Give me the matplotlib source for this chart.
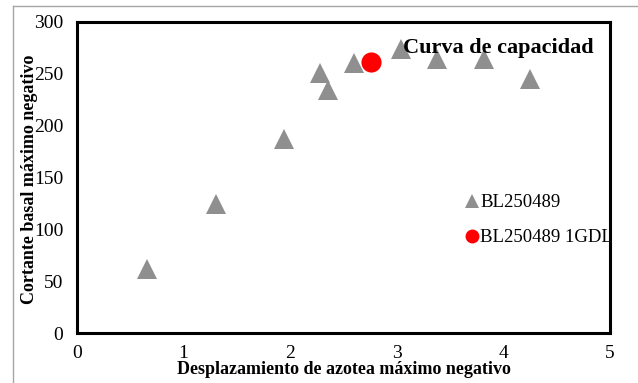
import matplotlib
matplotlib.use("Agg")
import matplotlib.pyplot as plt
from matplotlib.lines import Line2D

plt.rcParams['font.family'] = ['Liberation Serif', 'DejaVu Serif']

# Data
x_bl = [0.66, 1.30, 1.94, 2.28, 2.35, 2.60, 3.04, 3.38, 3.82, 4.25]
y_bl = [62, 124, 187, 251, 234, 260, 274, 264, 264, 245]
x_gdl = [2.76]
y_gdl = [261]
series_names = ["BL250489", "BL250489 1GDL"]
x_ticks = [0, 1, 2, 3, 4, 5]
y_ticks = [0, 50, 100, 150, 200, 250, 300]
title = "Curva de capacidad"
xlabel = "Desplazamiento de azotea máximo negativo"
ylabel = "Cortante basal máximo negativo"

W, H = 638, 383
fig = plt.figure(figsize=(W / 100, H / 100), dpi=100)
ax = fig.add_axes([77 / W, 1 - 333 / H, (610 - 77) / W, (333 - 22) / H])

ax.plot(x_bl, y_bl, linestyle='none', marker='^', markersize=14, color='#8f8f8f',
        markeredgewidth=0, label=series_names[0])
ax.plot(x_gdl, y_gdl, linestyle='none', marker='o', markersize=14.5, color='#ff0000',
        markeredgewidth=0, label=series_names[1])

ax.set_xlim(0, 5)
ax.set_ylim(0, 300)
ax.set_xticks(x_ticks)
ax.set_yticks(y_ticks)
ax.tick_params(axis='both', length=0, labelsize=14)
ax.tick_params(axis='y', pad=10)
ax.tick_params(axis='x', pad=9)
for s in ax.spines.values():
    s.set_linewidth(2.2)
    s.set_color('black')

ax.text(0.79, 0.915, title, transform=ax.transAxes, ha='center', va='center',
        fontsize=16, fontweight='bold')

handles = [Line2D([], [], linestyle='none', marker='^', markersize=9.5, color='#8f8f8f', markeredgewidth=0),
           Line2D([], [], linestyle='none', marker='o', markersize=10, color='#ff0000', markeredgewidth=0)]
leg = ax.legend(handles, series_names, loc='upper left', bbox_to_anchor=((466 - 77) / 533, (333 - 194) / 311),
                frameon=False, fontsize=13.5, handlelength=0.6, handletextpad=0.15,
                labelspacing=0.95, borderaxespad=0, borderpad=0)

fig.text(343.5 / W, 1 - 369 / H, xlabel, ha='center', va='center', fontsize=13, fontweight='bold')
fig.text(30 / W, 1 - 179 / H, ylabel, ha='center', va='center', rotation=90, fontsize=13, fontweight='bold')

# outer chart border (partially visible)
fig.add_artist(Line2D([13 / W, 13 / W], [0, 1 - 6 / H], transform=fig.transFigure, color='#a6a6a6', linewidth=1))
fig.add_artist(Line2D([13 / W, 1], [1 - 6 / H, 1 - 6 / H], transform=fig.transFigure, color='#a6a6a6', linewidth=1))

fig.savefig("out.png", dpi=100)
